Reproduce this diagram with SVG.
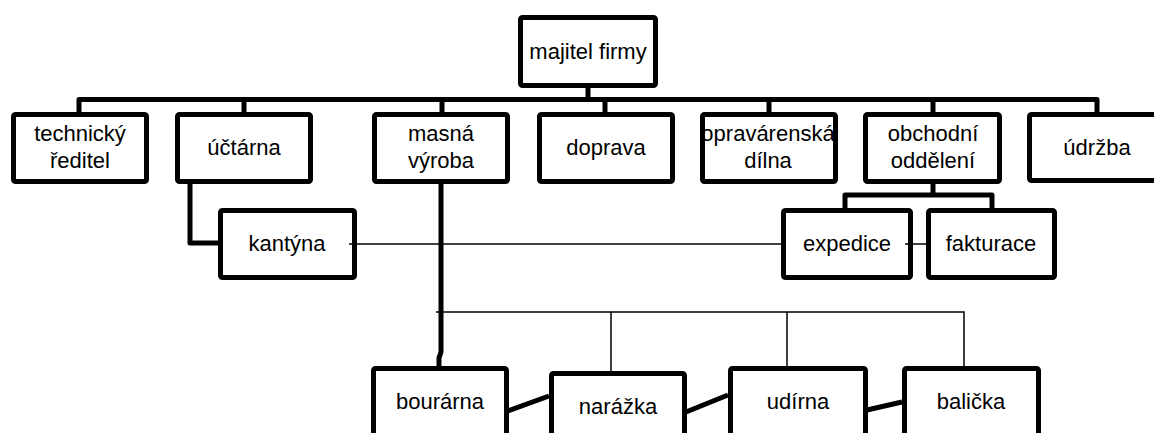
<svg xmlns="http://www.w3.org/2000/svg" width="1154" height="433" viewBox="0 0 1154 433">
<style>
.box{fill:#fff;stroke:#000;stroke-width:5;stroke-linejoin:round}
.thick{fill:none;stroke:#000;stroke-width:5;stroke-linejoin:round}
.thin{fill:none;stroke:#000;stroke-width:1.5}
text{font-family:"Liberation Sans",Arial,sans-serif;font-size:22px;fill:#000;text-anchor:middle}
</style>
<rect width="1154" height="433" fill="#fff"/>
<g id="majitel"><rect class="box" x="520.5" y="17.5" width="135" height="68" rx="2"/><text x="588" y="59">majitel firmy</text></g>
<g id="technicky"><rect class="box" x="13.5" y="114.5" width="133" height="67" rx="2"/><text x="80" y="141">technický</text><text x="80" y="168">ředitel</text></g>
<g id="uctarna"><rect class="box" x="177.5" y="114.5" width="133" height="67" rx="2"/><text x="244" y="155">účtárna</text></g>
<g id="masna"><rect class="box" x="374.5" y="114.5" width="133" height="67" rx="2"/><text x="441" y="141">masná</text><text x="441" y="168">výroba</text></g>
<g id="doprava"><rect class="box" x="539.5" y="114.5" width="133" height="67" rx="2"/><text x="606" y="155">doprava</text></g>
<g id="opravarenska"><rect class="box" x="702.5" y="114.5" width="133" height="67" rx="2"/><text x="768" y="141">opravárenská</text><text x="768" y="168">dílna</text></g>
<g id="obchodni"><rect class="box" x="865.5" y="114.5" width="134" height="67" rx="2"/><text x="933" y="141">obchodní</text><text x="933" y="168">oddělení</text></g>
<g id="udrzba"><rect class="box" x="1029.5" y="114.5" width="140" height="66" rx="2"/><text x="1097" y="155">údržba</text></g>
<g id="kantyna"><rect class="box" x="220.5" y="210.5" width="134" height="67" rx="2"/><text x="287" y="251">kantýna</text></g>
<g id="expedice"><rect class="box" x="783.5" y="210.5" width="127" height="67" rx="2"/><text x="847" y="251">expedice</text></g>
<g id="fakturace"><rect class="box" x="928.5" y="210.5" width="126" height="67" rx="2"/><text x="991" y="251">fakturace</text></g>
<g id="bourarna"><rect class="box" x="373.5" y="368.5" width="133" height="80" rx="2"/><text x="440" y="409">bourárna</text></g>
<g id="narazka"><rect class="box" x="551.5" y="373.5" width="133" height="80" rx="2"/><text x="618" y="414">narážka</text></g>
<g id="udirna"><rect class="box" x="730.5" y="368.5" width="135" height="80" rx="2"/><text x="798" y="409">udírna</text></g>
<g id="balicka"><rect class="box" x="904.5" y="368.5" width="134" height="80" rx="2"/><text x="971" y="409">balička</text></g>
<g id="connectors">
<path class="thick" d="M588 86V99.5M79 112V99.5H1097V112M244 99.5V112M442 99.5V112M605 99.5V112M769 99.5V112M933 99.5V112"/>
<path class="thick" d="M190 184V243H218"/>
<path class="thick" d="M933 184V195M845 208V195H992V208"/>
<path class="thin" d="M349 244H781M905 244H926"/>
<path class="thick" d="M441 184V352L439 358V366"/>
<path class="thin" d="M436 312H964V367M611 312V371M787 312V367"/>
<path class="thick" d="M508 411L549 396M686 412L728 395M867 410L902 402"/>
</g>
</svg>
